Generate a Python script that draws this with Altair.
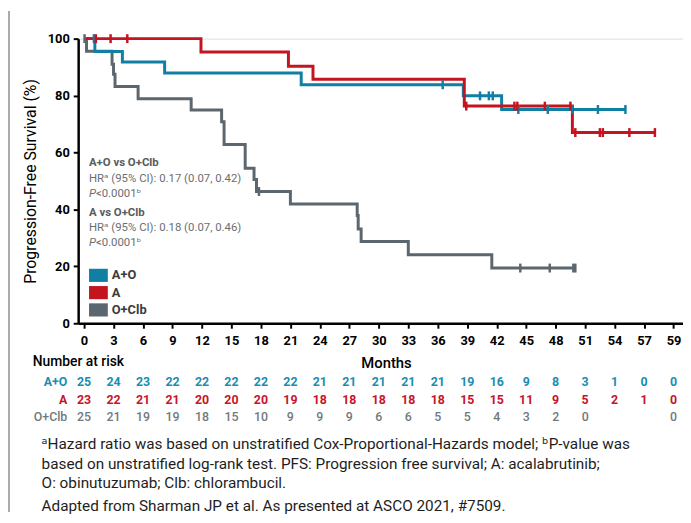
import altair as alt
import pandas as pd

# ---------------- data ----------------
groups = ["A+O", "A", "O+Clb"]
line_colors = ["#117fa3", "#c3141f", "#5b666e"]
table_colors = ["#1b8cb2", "#c8142a", "#72797e"]

# Kaplan-Meier step curves (event times in months, survival % after each event)
ao_event_t = [1.1, 3.9, 8.2, 22.1, 38.6, 42.5]
ao_event_s = [95.5, 91.8, 87.9, 83.8, 79.9, 75.1]
ao_censor_t = [1.0, 36.5, 40.3, 41.2, 41.6, 44.2, 47.2, 49.7, 52.3, 55.1]

a_event_t = [11.9, 20.8, 23.3, 38.7, 49.7]
a_event_s = [95.3, 90.3, 85.7, 76.3, 67.0]
a_censor_t = [1.2, 2.7, 4.4, 38.9, 43.8, 44.1, 46.9, 49.5, 50.0, 52.5, 52.8, 55.5, 58.1]

oc_event_t = [0.25, 2.85, 3.0, 3.15, 5.5, 10.9, 14.0, 14.25, 16.4, 17.3, 17.55,
              21.0, 27.8, 27.9, 28.2, 33.0, 41.5]
oc_event_s = [95.6, 91.0, 87.5, 83.2, 78.9, 74.9, 70.8, 62.8, 54.5, 50.5, 46.3,
              41.9, 37.9, 33.1, 28.7, 24.1, 19.4]
oc_censor_t = [0.05, 17.8, 44.4, 47.4, 49.8, 50.0]

# number at risk
risk_months = [0, 3, 6, 9, 12, 15, 18, 21, 24, 27, 30, 33, 36, 39, 42, 45, 48, 51, 54, 57, 60]
ao_risk = ["25", "24", "23", "22", "22", "22", "22", "22", "21", "21", "21", "21", "21",
           "19", "16", "9", "8", "3", "1", "0", "0"]
a_risk = ["23", "22", "21", "21", "20", "20", "20", "19", "18", "18", "18", "18", "18",
          "15", "15", "11", "9", "5", "2", "1", "0"]
oc_risk = ["25", "21", "19", "19", "18", "15", "10", "9", "9", "9", "6", "6", "5",
           "5", "4", "3", "2", "0", "", "", "0"]

y_ticks = [0, 20, 40, 60, 80, 100]

annot_bold = ["A+O vs O+Clb", "A vs O+Clb"]
annot_bold_y = [56.3, 38.9]
annot_hr = ["HR\u1d43 (95% CI): 0.17 (0.07, 0.42)", "HR\u1d43 (95% CI): 0.18 (0.07, 0.46)"]
annot_hr_y = [50.7, 33.3]
annot_p = ["<0.0001\u1d47", "<0.0001\u1d47"]
annot_p_y = [45.5, 28.1]

footnotes = [
    "\u1d43Hazard ratio was based on unstratified Cox-Proportional-Hazards model; \u1d47P-value was",
    "based on unstratified log-rank test. PFS: Progression free survival; A: acalabrutinib;",
    "O: obinutuzumab; Clb: chlorambucil.",
    "Adapted from Sharman JP et al. As presented at ASCO 2021, #7509.",
]

FONT = "Roboto, DejaVu Sans, sans-serif"

# ---------------- tables ----------------
def km_rows(group, et, es, ct):
    rows = [{"group": group, "t": 0.0, "s": 100.0}]
    for t, s in zip(et, es):
        rows.append({"group": group, "t": t, "s": s})
    rows.append({"group": group, "t": max(ct + et), "s": es[-1]})
    return rows


def censor_rows(group, et, es, ct):
    rows = []
    for c in ct:
        s = 100.0
        for t, v in zip(et, es):
            if t <= c:
                s = v
        rows.append({"group": group, "t": c, "s": s})
    return rows


series = [
    ("O+Clb", oc_event_t, oc_event_s, oc_censor_t),
    ("A+O", ao_event_t, ao_event_s, ao_censor_t),
    ("A", a_event_t, a_event_s, a_censor_t),
]
line_df = pd.DataFrame([r for g in series for r in km_rows(*g)])
cens_df = pd.DataFrame([r for g in series for r in censor_rows(*g)])

# ---------------- encodings ----------------
x_enc = alt.X(
    "t:Q",
    scale=alt.Scale(domain=[-0.6, 60.96], nice=False, zero=False),
    axis=alt.Axis(
        values=risk_months,
        labelExpr="datum.value == 60 ? '59' : datum.label",
        title="Months", titleX=311.5, titleY=40, titleAlign="center",
        titleBaseline="middle", titleFont=FONT, titleFontSize=15,
        titleFontWeight=500, titleColor="black",
        labelFont=FONT, labelFontSize=13, labelFontWeight="bold",
        labelColor="black", labelPadding=6, labelFlush=False, labelOverlap=False,
        tickSize=5, tickWidth=2, tickColor="black",
        domainColor="black", domainWidth=2.5, grid=False,
    ),
)
y_enc = alt.Y(
    "s:Q",
    scale=alt.Scale(domain=[0, 100], nice=False, zero=False),
    axis=alt.Axis(
        values=y_ticks, title="Progression-Free Survival (%)",
        titleFont=FONT, titleFontSize=16, titleFontWeight="normal",
        titleColor="black", titlePadding=9,
        labelFont=FONT, labelFontSize=13, labelFontWeight="bold",
        labelColor="black", labelPadding=4,
        tickSize=5, tickWidth=2, tickColor="black",
        domainColor="black", domainWidth=2.5, grid=False,
    ),
)
color_scale = alt.Scale(domain=groups, range=line_colors)

legend = alt.Legend(
    title=None, orient="none", legendX=11, legendY=230, padding=0,
    symbolType="M-1,-0.7H1V0.7H-1Z", symbolSize=361, symbolStrokeWidth=0,
    symbolOpacity=1,
    labelFont=FONT, labelFontSize=13, labelFontWeight="bold", labelColor="#3c3c3c",
    labelOffset=4, rowPadding=0.5,
)

# legend carrier (invisible points, filled swatches in legend)
legend_layer = alt.Chart(pd.DataFrame({"group": groups})).mark_point(
    filled=True, opacity=0
).encode(
    x=alt.value(-300), y=alt.value(-300),
    color=alt.Color("group:N", scale=color_scale, legend=legend),
)

lines = alt.Chart(line_df).mark_line(
    interpolate="step-after", strokeWidth=3, strokeJoin="miter"
).encode(
    x=x_enc, y=y_enc,
    color=alt.Color("group:N", scale=color_scale, legend=None),
)

censors = alt.Chart(cens_df).mark_point(
    shape="M0,-1V1", size=81, strokeWidth=2.5, filled=False, opacity=1
).encode(
    x=x_enc, y=y_enc,
    color=alt.Color("group:N", scale=color_scale, legend=None),
)

# annotations
ann_bold_df = pd.DataFrame({"t": [0.5] * 2, "s": annot_bold_y, "text": annot_bold})
ann_hr_df = pd.DataFrame({"t": [0.5] * 2, "s": annot_hr_y, "text": annot_hr})
ann_p_df = pd.DataFrame({"t": [0.5] * 2, "s": annot_p_y, "text": annot_p})

ann_bold = alt.Chart(ann_bold_df).mark_text(
    align="left", baseline="middle", font=FONT, fontSize=11.5, fontWeight="bold",
    color="#575c60"
).encode(x=x_enc, y=y_enc, text="text:N")
ann_hr = alt.Chart(ann_hr_df).mark_text(
    align="left", baseline="middle", font=FONT, fontSize=11.5, color="#6a6f73"
).encode(x=x_enc, y=y_enc, text="text:N")
ann_pi = alt.Chart(ann_p_df).mark_text(
    align="left", baseline="middle", font=FONT, fontSize=11.5, fontStyle="italic",
    color="#6a6f73"
).encode(x=x_enc, y=y_enc, text=alt.value("P"))
ann_p = alt.Chart(ann_p_df).mark_text(
    align="left", baseline="middle", font=FONT, fontSize=11.5, color="#6a6f73", dx=7
).encode(x=x_enc, y=y_enc, text="text:N")

# number at risk table
risk_layers = []
row_y = [347.3, 365.7, 383.3]
for g, vals, col, ry in zip(groups, [ao_risk, a_risk, oc_risk], table_colors, row_y):
    df = pd.DataFrame({"t": risk_months, "text": vals})
    weight = "bold" if g != "O+Clb" else 500
    risk_layers.append(
        alt.Chart(df).mark_text(
            align="center", baseline="middle", font=FONT, fontSize=12.5,
            fontWeight=weight, color=col
        ).encode(x=x_enc, y=alt.value(ry), text="text:N")
    )
    risk_layers.append(
        alt.Chart(pd.DataFrame({"text": [g]})).mark_text(
            align="right", baseline="middle", font=FONT, fontSize=12.5,
            fontWeight=weight, color=col
        ).encode(x=alt.value(-11), y=alt.value(ry), text="text:N")
    )

nar = alt.Chart(pd.DataFrame({"text": ["Number at risk"]})).mark_text(
    align="left", baseline="middle", font=FONT, fontSize=14, fontWeight=500, color="black"
).encode(x=alt.value(-46), y=alt.value(327.5), text="text:N")

foot_layers = []
for i, fy in enumerate([410.5, 430.5, 450.0, 472.5]):
    foot_layers.append(
        alt.Chart(pd.DataFrame({"text": [footnotes[i]]})).mark_text(
            align="left", baseline="middle", font=FONT, fontSize=15.5, color="#1e1e1e"
        ).encode(x=alt.value(-37), y=alt.value(fy), text="text:N")
    )

frame = alt.Chart(pd.DataFrame({"k": [0]})).mark_rule(
    color="#8f8f8f", strokeWidth=1.5
).encode(x=alt.value(-70), y=alt.value(-28), y2=alt.value(479))

chart = alt.layer(
    frame, legend_layer, lines, censors, ann_bold, ann_hr, ann_pi, ann_p, nar,
    *risk_layers, *foot_layers
).properties(
    width=612, height=288,
    autosize=alt.AutoSizeParams(type="none"),
    padding={"left": 71, "top": 28, "right": 0, "bottom": 191},
).configure_view(stroke=None).configure(background="white")

chart.save("out.html", embed_options={"renderer": "svg", "actions": False})
